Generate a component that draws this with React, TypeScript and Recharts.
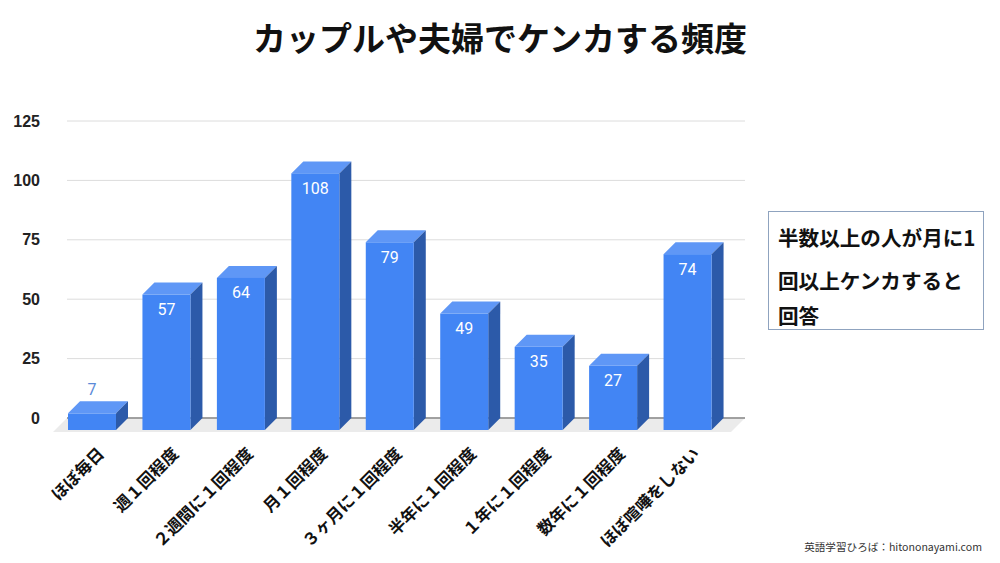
import { Bar, BarChart, CartesianGrid, LabelList, ReferenceLine, XAxis, YAxis } from "recharts";

const categories = [
  "ほぼ毎日",
  "週１回程度",
  "２週間に１回程度",
  "月１回程度",
  "３ヶ月に１回程度",
  "半年に１回程度",
  "１年に１回程度",
  "数年に１回程度",
  "ほぼ喧嘩をしない",
];
const counts = [7, 57, 64, 108, 79, 49, 35, 27, 74];
const yTicks = [0, 25, 50, 75, 100, 125];

const chartData = categories.map((name, i) => ({ name, count: counts[i] }));

const DEPTH = 12;
const FRONT = "#4285f4";
const TOP = "#5f97f6";
const SIDE = "#2c5aa9";
const JP = "'Noto Sans CJK JP', 'Noto Sans', sans-serif";
const EXTRA = 8; // grid and floor run a little past the last band

const Bar3D = (props: any) => {
  const { x, y, width, height } = props;
  if (width == null || height == null) return null;
  const fx = x - DEPTH;
  const fy = y + DEPTH;
  return (
    <g>
      <polygon
        points={`${fx},${fy} ${x},${y} ${x + width},${y} ${fx + width},${fy}`}
        fill={TOP}
      />
      <polygon
        points={`${fx + width},${fy} ${x + width},${y} ${x + width},${y + height} ${fx + width},${fy + height}`}
        fill={SIDE}
      />
      <rect x={fx} y={fy} width={width} height={height} fill={FRONT} />
    </g>
  );
};

const GridLine = (props: any) => {
  const { x1, x2, y1, y2 } = props;
  return <line x1={x1} y1={y1} x2={x2 + EXTRA} y2={y2} stroke="#dcdcdc" strokeWidth={1} />;
};

const Floor = (props: any) => {
  const { x1, x2, y1 } = props;
  const d = DEPTH + 2;
  const right = x2 + EXTRA;
  return (
    <g>
      <polygon
        points={`${x1},${y1} ${right},${y1} ${right - d},${y1 + d} ${x1 - d},${y1 + d}`}
        fill="#ebebeb"
      />
      <line x1={x1} y1={y1} x2={right} y2={y1} stroke="#555" strokeWidth={1.2} />
    </g>
  );
};

const ValueLabel = (props: any) => {
  const { x, y, width, height, value } = props;
  const cx = x - DEPTH + width / 2;
  const inside = height > 30;
  return (
    <text
      x={cx}
      y={inside ? y + DEPTH + 15 : y - 12}
      textAnchor="middle"
      dominantBaseline="central"
      fill={inside ? "#ffffff" : "#5b8ad8"}
      fontFamily="Roboto, sans-serif"
      fontSize={16}
    >
      {value}
    </text>
  );
};

const CategoryTick = (props: any) => {
  const { x, y, payload } = props;
  const ax = x - 4;
  const ay = y + 30;
  return (
    <text
      x={ax}
      y={ay}
      transform={`rotate(-45, ${ax}, ${ay})`}
      textAnchor="end"
      dominantBaseline="central"
      fontFamily={JP}
      fontWeight={700}
      fontSize={16.5}
      fill="#111"
    >
      {payload.value}
    </text>
  );
};

export default function App() {
  return (
    <div
      style={{
        position: "absolute",
        left: 0,
        top: 0,
        width: 1000,
        height: 563,
        background: "#fff",
        overflow: "hidden",
      }}
    >
      <div
        style={{
          position: "absolute",
          left: 0,
          top: 15,
          width: 1000,
          textAlign: "center",
          fontFamily: JP,
          fontWeight: 700,
          fontSize: 33,
          lineHeight: "44px",
          color: "#111",
        }}
      >
        カップルや夫婦でケンカする頻度
      </div>

      <BarChart
        width={1000}
        height={563}
        data={chartData}
        margin={{ top: 121, right: 263, bottom: 105, left: 7 }}
        barSize={48}
      >
        <CartesianGrid horizontal={<GridLine />} vertical={false} />
        <YAxis
          width={60}
          domain={[0, 125]}
          ticks={yTicks}
          axisLine={false}
          tickLine={false}
          tickSize={0}
          tickMargin={27}
          tick={{ fill: "#222", fontSize: 16, fontWeight: 700, fontFamily: "'Liberation Sans', Arial, sans-serif" }}
        />
        <XAxis
          dataKey="name"
          height={40}
          axisLine={false}
          tickLine={false}
          tickSize={0}
          interval={0}
          tick={<CategoryTick />}
        />
        <ReferenceLine y={0} zIndex={-50} shape={<Floor />} />
        <Bar dataKey="count" shape={<Bar3D />} isAnimationActive={false}>
          <LabelList dataKey="count" content={<ValueLabel />} />
        </Bar>
      </BarChart>

      <div
        style={{
          position: "absolute",
          left: 768,
          top: 211,
          width: 214,
          height: 117,
          border: "1px solid #8fa3bf",
          fontFamily: JP,
          fontWeight: 700,
          fontSize: 20.6,
          color: "#111",
        }}
      >
        <div style={{ position: "absolute", left: 9, top: 11, lineHeight: "28px", whiteSpace: "nowrap" }}>
          半数以上の人が月に1
        </div>
        <div style={{ position: "absolute", left: 9, top: 54, lineHeight: "28px", whiteSpace: "nowrap" }}>
          回以上ケンカすると
        </div>
        <div style={{ position: "absolute", left: 9, top: 89, lineHeight: "28px", whiteSpace: "nowrap" }}>
          回答
        </div>
      </div>

      <div
        style={{
          position: "absolute",
          right: 18,
          top: 539,
          fontFamily: JP,
          fontSize: 10.6,
          lineHeight: "16px",
          color: "#333",
        }}
      >
        英語学習ひろば：hitononayami.com
      </div>
    </div>
  );
}
